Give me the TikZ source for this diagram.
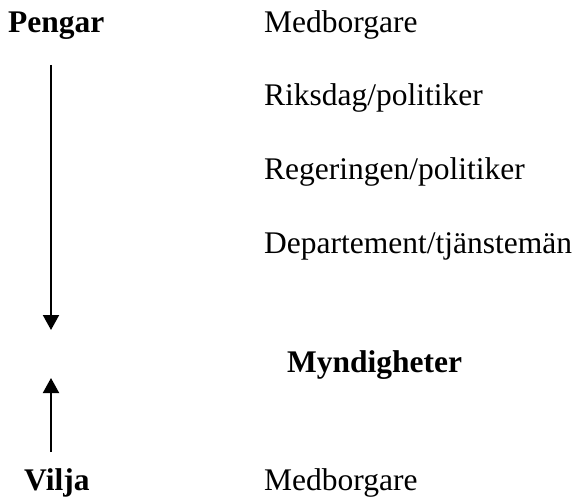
\documentclass[tikz,border=0pt]{standalone}
\usepackage{fontspec}
\setmainfont{Liberation Serif}
\usetikzlibrary{arrows.meta}
\begin{document}
\begin{tikzpicture}[x=1pt,y=-1pt]
\tikzstyle{every node}+=[inner sep=0pt, anchor=base west, font=\fontsize{31.5}{36}\selectfont]
\tikzstyle{head}=[font=\fontsize{31.5}{36}\selectfont\bfseries]
\tikzstyle{flow}=[line width=2pt, -{Triangle[length=15pt,width=16pt]}]
\useasboundingbox (0,0) rectangle (578,497);
\node [head] (pengar) at (8,33) {Pengar};
\node (medb1) at (264,33) {Medborgare};
\node (riksdag) at (264,106) {Riksdag/politiker};
\node (regering) at (264,180) {Regeringen/politiker};
\node (dep) at (264,253) {Departement/tjänstemän};
\node [head] (myndig) at (287,372) {Myndigheter};
\node [head] (vilja) at (24,490) {Vilja};
\node (medb2) at (264,490) {Medborgare};
\coordinate (pengtop) at (51,65);
\coordinate (pengtip) at (51,330);
\coordinate (viljabot) at (51,452);
\coordinate (viljatip) at (51,378);
\draw [flow] (pengtop) -- (pengtip);
\draw [flow] (viljabot) -- (viljatip);
\end{tikzpicture}
\end{document}
